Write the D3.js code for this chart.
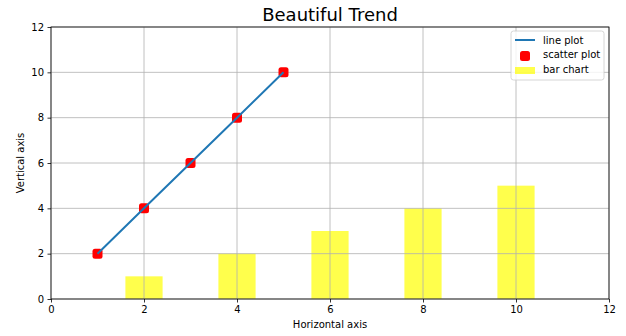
<!DOCTYPE html>
<html><head><meta charset="utf-8">
<script src="https://cdn.jsdelivr.net/npm/d3@7"></script>
<style>body{margin:0;background:#fff}svg{display:block}text{font-family:"DejaVu Sans",sans-serif}</style>
</head><body><svg id="c" width="626" height="336"></svg>
<script>
const lineX = [1, 2, 3, 4, 5];
const lineY = [2, 4, 6, 8, 10];
const barX = [2, 4, 6, 8, 10];
const barY = [1, 2, 3, 4, 5];
const xTicks = [0, 2, 4, 6, 8, 10, 12];
const yTicks = [0, 2, 4, 6, 8, 10, 12];
const legendLabels = ["line plot", "scatter plot", "bar chart"];

const svg = d3.select("#c");
const m = {l: 51, r: 609, t: 27, b: 299};
const x = d3.scaleLinear().domain([0, 12]).range([m.l, m.r]);
const y = d3.scaleLinear().domain([0, 12]).range([m.b, m.t]);

// bars
svg.append("g").selectAll("rect").data(barX).join("rect")
  .attr("x", (d) => x(d - 0.4)).attr("width", x(0.8) - x(0))
  .attr("y", (d, i) => y(barY[i])).attr("height", (d, i) => y(0) - y(barY[i]))
  .attr("fill", "#ffff00").attr("fill-opacity", 0.7);

// grid
const g = svg.append("g").attr("stroke", "#b0b0b0").attr("stroke-width", 0.8);
xTicks.forEach(t => g.append("line").attr("x1", x(t)).attr("x2", x(t)).attr("y1", m.t).attr("y2", m.b));
yTicks.forEach(t => g.append("line").attr("y1", y(t)).attr("y2", y(t)).attr("x1", m.l).attr("x2", m.r));

// scatter
svg.append("g").selectAll("rect").data(lineX).join("rect")
  .attr("x", d => x(d) - 5).attr("y", (d, i) => y(lineY[i]) - 5)
  .attr("width", 10).attr("height", 10).attr("rx", 2.5).attr("fill", "#ff0000");

// line
svg.append("path").datum(lineX.map((d, i) => [d, lineY[i]]))
  .attr("d", d3.line().x(d => x(d[0])).y(d => y(d[1])))
  .attr("fill", "none").attr("stroke", "#1f77b4").attr("stroke-width", 2);

// axes
const xa = svg.append("g").attr("transform", `translate(0,${m.b})`)
  .call(d3.axisBottom(x).tickValues(xTicks).tickSize(3.5).tickPadding(3.5));
const ya = svg.append("g").attr("transform", `translate(${m.l},0)`)
  .call(d3.axisLeft(y).tickValues(yTicks).tickSize(3.5).tickPadding(3.5));
[xa, ya].forEach(a => {
  a.selectAll("text").attr("font-size", 10).attr("fill", "#000").attr("font-family", "DejaVu Sans");
  a.select(".domain").remove();
  a.selectAll(".tick line").attr("stroke", "#000").attr("stroke-width", 0.8);
});
// spines
svg.append("rect").attr("x", m.l).attr("y", m.t).attr("width", m.r - m.l).attr("height", m.b - m.t)
  .attr("fill", "none").attr("stroke", "#000").attr("stroke-width", 0.8);

// labels
svg.append("text").attr("x", (m.l + m.r) / 2).attr("y", 21).attr("text-anchor", "middle")
  .attr("font-size", 18).text("Beautiful Trend");
svg.append("text").attr("x", (m.l + m.r) / 2).attr("y", 328).attr("text-anchor", "middle")
  .attr("font-size", 10).text("Horizontal axis");
svg.append("text").attr("transform", `translate(24,${(m.t + m.b) / 2}) rotate(-90)`)
  .attr("text-anchor", "middle").attr("font-size", 10).text("Vertical axis");

// legend
const lg = svg.append("g").attr("transform", "translate(511,31)");
lg.append("rect").attr("width", 93).attr("height", 49).attr("rx", 2.5)
  .attr("fill", "#fff").attr("fill-opacity", 0.8).attr("stroke", "#cccccc").attr("stroke-width", 0.8);
lg.append("line").attr("x1", 4).attr("x2", 24).attr("y1", 9).attr("y2", 9).attr("stroke", "#1f77b4").attr("stroke-width", 2);
lg.append("rect").attr("x", 9).attr("y", 20).attr("width", 10).attr("height", 10).attr("rx", 2.5).attr("fill", "#ff0000");
lg.append("rect").attr("x", 4).attr("y", 36).attr("width", 20).attr("height", 7).attr("fill", "#ffff00").attr("fill-opacity", 0.7);
legendLabels.forEach((t, i) => lg.append("text").attr("x", 32).attr("y", 12.5 + i * 14.5).attr("font-size", 10).text(t));
</script></body></html>
